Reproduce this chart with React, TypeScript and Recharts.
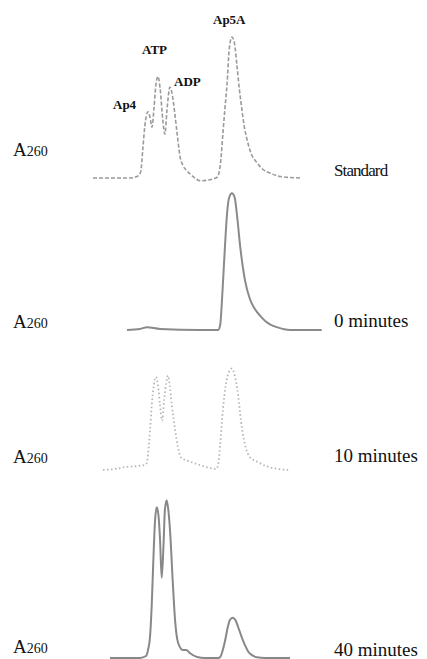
import React from "react";
import { LineChart, Line, XAxis, YAxis } from "recharts";

// Retention time (min) and A260 (relative units) for each chromatogram
const standardTime = [0, 5.35, 6.5, 6.9, 7.2, 7.5, 7.96, 8.25, 8.54, 8.83, 9.1, 9.4, 9.7, 10.1, 10.4, 10.7, 11.0, 11.1, 11.35, 11.6, 11.9, 12.16, 12.6, 13.0, 13.6, 14.5, 15.5, 17.8, 18.2, 18.5, 18.8, 19.1, 19.4, 19.7, 20.1, 20.45, 20.84, 21.2, 21.56, 21.9, 22.3, 22.9, 23.7, 24.6, 25.6, 27.1, 30.0];
const standardA260 = [0, 0, 0.014, 0.043, 0.2, 0.37, 0.47, 0.43, 0.36, 0.5, 0.66, 0.72, 0.64, 0.41, 0.31, 0.48, 0.62, 0.645, 0.62, 0.55, 0.43, 0.32, 0.15, 0.09, 0.05, 0.01, -0.02, 0, 0.03, 0.13, 0.32, 0.5, 0.67, 0.91, 1.0, 0.96, 0.79, 0.62, 0.48, 0.36, 0.27, 0.17, 0.11, 0.06, 0.035, 0.01, 0];

const min0Time = [4.92, 6.8, 7.8, 9.7, 15.5, 18.1, 18.4, 18.74, 19.1, 19.4, 19.7, 20.1, 20.5, 20.8, 21.3, 22.0, 22.7, 23.4, 24.2, 25.0, 25.6, 26.6, 28.5, 33.1];
const min0A260 = [0, 0.007, 0.02, 0.007, 0, 0, 0.035, 0.28, 0.6, 0.83, 0.94, 0.97, 0.94, 0.83, 0.59, 0.35, 0.22, 0.15, 0.1, 0.06, 0.04, 0.02, 0, 0];

const min10Time = [1.45, 3.2, 4.6, 6.8, 7.7, 7.96, 8.25, 8.5, 8.8, 9.1, 9.4, 9.7, 10.0, 10.3, 10.6, 10.85, 11.1, 11.4, 11.9, 12.3, 12.7, 14.0, 15.5, 16.9, 17.8, 18.1, 18.4, 18.8, 19.2, 19.7, 20.1, 20.5, 21.0, 21.4, 22.0, 22.7, 23.7, 24.9, 26.8, 28.6];
const min10A260 = [0, 0.007, 0.02, 0.03, 0.04, 0.11, 0.28, 0.46, 0.6, 0.66, 0.6, 0.46, 0.35, 0.5, 0.62, 0.67, 0.6, 0.46, 0.28, 0.16, 0.09, 0.06, 0.035, 0.014, 0.007, 0.035, 0.18, 0.43, 0.6, 0.7, 0.72, 0.67, 0.53, 0.35, 0.18, 0.09, 0.06, 0.03, 0.007, 0];

const min40Time = [2.46, 6.8, 7.67, 7.96, 8.25, 8.5, 8.72, 8.97, 9.22, 9.48, 9.7, 9.94, 10.2, 10.4, 10.66, 10.9, 11.14, 11.53, 11.87, 12.3, 13.0, 13.5, 14.0, 15.05, 16.2, 18.1, 18.4, 18.74, 19.1, 19.5, 19.8, 20.2, 20.6, 21.0, 21.5, 22.0, 22.4, 23.0, 23.7, 24.9, 28.5];
const min40A260 = [0, 0, 0.014, 0.057, 0.15, 0.38, 0.68, 0.97, 1.07, 1.01, 0.84, 0.57, 0.8, 1.05, 1.12, 1.05, 0.91, 0.55, 0.27, 0.11, 0.057, 0.057, 0.035, 0.007, 0, 0, 0.007, 0.05, 0.12, 0.22, 0.27, 0.286, 0.27, 0.22, 0.15, 0.09, 0.05, 0.02, 0.005, 0, 0];

const panelLabels = ["Standard", "0 minutes", "10 minutes", "40 minutes"];
const peakNames = ["Ap4", "ATP", "ADP", "Ap5A"];

const zip = (t: number[], v: number[]) => t.map((x, i) => ({ t: x, a: v[i] }));

const serif = "'Liberation Serif', 'Times New Roman', serif";

type PanelProps = {
  data: { t: number; a: number }[];
  top: number;
  height: number;
  domain: [number, number];
  stroke: string;
  width: number;
  dash?: string;
};

function Panel({ data, top, height, domain, stroke, width, dash }: PanelProps) {
  return (
    <div style={{ position: "absolute", left: 93, top, width: 235, height }}>
      <LineChart width={235} height={height} data={data} margin={{ top: 0, right: 0, bottom: 0, left: 0 }}>
        <XAxis dataKey="t" type="number" domain={[0, 34]} hide allowDataOverflow />
        <YAxis type="number" domain={domain} hide allowDataOverflow />
        <Line
          type="monotone"
          dataKey="a"
          stroke={stroke}
          strokeWidth={width}
          strokeDasharray={dash}
          dot={false}
          isAnimationActive={false}
        />
      </LineChart>
    </div>
  );
}

function A260({ top }: { top: number }) {
  return (
    <div style={{ position: "absolute", left: 13, top, fontFamily: serif, color: "#111", whiteSpace: "nowrap", lineHeight: 1 }}>
      <span style={{ fontSize: 19 }}>A</span>
      <span style={{ fontSize: 14 }}>260</span>
    </div>
  );
}

function SideLabel({ top, text, condensed }: { top: number; text: string; condensed?: boolean }) {
  return (
    <div
      style={{
        position: "absolute",
        left: 334,
        top,
        fontFamily: serif,
        fontSize: condensed ? 17 : 19,
        letterSpacing: condensed ? -0.9 : 0,
        color: "#111",
        whiteSpace: "nowrap",
        lineHeight: 1,
      }}
    >
      {text}
    </div>
  );
}

function PeakLabel({ left, top, text }: { left: number; top: number; text: string }) {
  return (
    <div style={{ position: "absolute", left, top, fontFamily: serif, fontWeight: "bold", fontSize: 13, color: "#111", whiteSpace: "nowrap", lineHeight: 1 }}>
      {text}
    </div>
  );
}

export default function App() {
  return (
    <div style={{ position: "fixed", left: 0, top: 0, width: 427, height: 659, overflow: "hidden", background: "#fff" }}>
      <Panel data={zip(standardTime, standardA260)} top={30} height={155} domain={[-0.05, 1.05]} stroke="#9a9a9a" width={1.6} dash="4 2" />
      <Panel data={zip(min0Time, min0A260)} top={182} height={155} domain={[-0.05, 1.05]} stroke="#8a8a8a" width={2} />
      <Panel data={zip(min10Time, min10A260)} top={322} height={155} domain={[-0.05, 1.05]} stroke="#b5b5b5" width={1.8} dash="1.5 2.5" />
      <Panel data={zip(min40Time, min40A260)} top={489} height={176} domain={[-0.05, 1.2]} stroke="#888888" width={2} />

      <PeakLabel left={113} top={98} text={peakNames[0]} />
      <PeakLabel left={142} top={43} text={peakNames[1]} />
      <PeakLabel left={174} top={75} text={peakNames[2]} />
      <PeakLabel left={213} top={13} text={peakNames[3]} />

      <A260 top={140} />
      <A260 top={312} />
      <A260 top={447} />
      <A260 top={637} />

      <SideLabel top={162} text={panelLabels[0]} condensed />
      <SideLabel top={311} text={panelLabels[1]} />
      <SideLabel top={446} text={panelLabels[2]} />
      <SideLabel top={640} text={panelLabels[3]} />
    </div>
  );
}
